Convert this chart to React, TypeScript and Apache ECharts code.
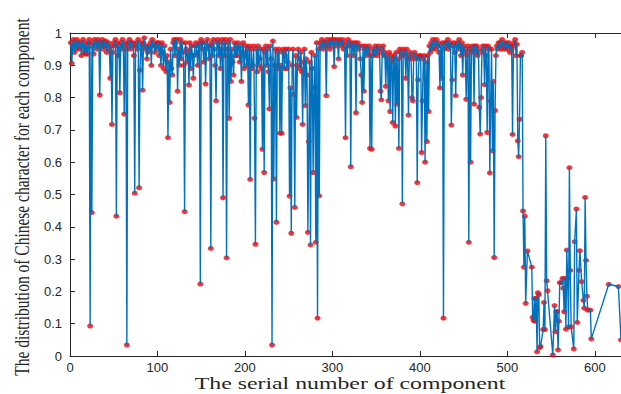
import React, { useEffect, useRef } from "react";
import * as echarts from "echarts";

// Serial numbers 1..510 (dense part)
const denseValues: number[] = [
  0.97, 0.906, 0.96, 0.98, 0.94, 0.97, 0.95, 0.98, 0.96, 0.97,
  0.95, 0.97, 0.93, 0.96, 0.98, 0.94, 0.97, 0.935, 0.96, 0.935,
  0.97, 0.98, 0.093, 0.96, 0.444, 0.97, 0.935, 0.98, 0.96, 0.97,
  0.95, 0.98, 0.97, 0.808, 0.96, 0.97, 0.98, 0.95, 0.96, 0.97,
  0.975, 0.94, 0.96, 0.97, 0.95, 0.86, 0.96, 0.717, 0.94, 0.97,
  0.96, 0.98, 0.433, 0.97, 0.93, 0.96, 0.815, 0.97, 0.95, 0.98,
  0.96, 0.749, 0.97, 0.95, 0.034, 0.96, 0.97, 0.98, 0.95, 0.97,
  0.96, 0.97, 0.93, 0.504, 0.96, 0.97, 0.95, 0.98, 0.521, 0.885,
  0.97, 0.96, 0.823, 0.97, 0.985, 0.95, 0.96, 0.92, 0.94, 0.96,
  0.95, 0.97, 0.90, 0.98, 0.96, 0.97, 0.94, 0.96, 0.95, 0.97,
  0.97, 0.93, 0.96, 0.90, 0.97, 0.94, 0.89, 0.96, 0.92, 0.88,
  0.93, 0.676, 0.91, 0.785, 0.95, 0.89, 0.87, 0.97, 0.98, 0.93,
  0.97, 0.98, 0.82, 0.95, 0.90, 0.98, 0.92, 0.97, 0.94, 0.90,
  0.447, 0.97, 0.95, 0.91, 0.94, 0.839, 0.97, 0.89, 0.96, 0.93,
  0.86, 0.93, 0.96, 0.97, 0.94, 0.90, 0.96, 0.97, 0.223, 0.98,
  0.97, 0.95, 0.91, 0.97, 0.842, 0.95, 0.98, 0.96, 0.92, 0.96,
  0.333, 0.97, 0.93, 0.98, 0.95, 0.90, 0.79, 0.97, 0.98, 0.93,
  0.97, 0.89, 0.95, 0.98, 0.49, 0.97, 0.93, 0.98, 0.304, 0.95,
  0.97, 0.736, 0.98, 0.85, 0.95, 0.91, 0.87, 0.97, 0.93, 0.96,
  0.93, 0.97, 0.95, 0.91, 0.96, 0.85, 0.94, 0.97, 0.89, 0.93,
  0.96, 0.90, 0.95, 0.777, 0.96, 0.547, 0.95, 0.89, 0.90, 0.96,
  0.736, 0.346, 0.95, 0.88, 0.96, 0.90, 0.92, 0.95, 0.89, 0.64,
  0.95, 0.568, 0.94, 0.96, 0.90, 0.95, 0.88, 0.765, 0.96, 0.92,
  0.034, 0.975, 0.548, 0.90, 0.95, 0.414, 0.94, 0.89, 0.95, 0.69,
  0.90, 0.69, 0.94, 0.95, 0.89, 0.93, 0.95, 0.89, 0.91, 0.95,
  0.495, 0.83, 0.38, 0.90, 0.95, 0.81, 0.46, 0.93, 0.739, 0.90,
  0.95, 0.92, 0.89, 0.94, 0.88, 0.717, 0.91, 0.95, 0.775, 0.92,
  0.87, 0.383, 0.664, 0.91, 0.344, 0.94, 0.89, 0.568, 0.83, 0.93,
  0.352, 0.97, 0.117, 0.95, 0.496, 0.97, 0.96, 0.98, 0.95, 0.97,
  0.96, 0.97, 0.806, 0.98, 0.96, 0.97, 0.95, 0.98, 0.97, 0.96,
  0.98, 0.896, 0.97, 0.98, 0.96, 0.97, 0.92, 0.98, 0.97, 0.96,
  0.97, 0.98, 0.95, 0.96, 0.676, 0.97, 0.93, 0.98, 0.96, 0.97,
  0.586, 0.96, 0.97, 0.93, 0.96, 0.97, 0.753, 0.96, 0.97, 0.95,
  0.96, 0.92, 0.87, 0.785, 0.96, 0.82, 0.95, 0.96, 0.93, 0.95,
  0.94, 0.96, 0.643, 0.93, 0.64, 0.95, 0.93, 0.94, 0.96, 0.95,
  0.93, 0.95, 0.96, 0.94, 0.82, 0.793, 0.95, 0.96, 0.93, 0.94,
  0.835, 0.93, 0.92, 0.79, 0.94, 0.757, 0.93, 0.91, 0.723, 0.92,
  0.93, 0.712, 0.94, 0.78, 0.92, 0.643, 0.95, 0.94, 0.93, 0.471,
  0.95, 0.93, 0.94, 0.86, 0.95, 0.92, 0.746, 0.93, 0.94, 0.92,
  0.80, 0.79, 0.93, 0.94, 0.92, 0.93, 0.537, 0.855, 0.92, 0.93,
  0.93, 0.63, 0.79, 0.92, 0.93, 0.60, 0.91, 0.664, 0.93, 0.757,
  0.96, 0.94, 0.97, 0.95, 0.98, 0.96, 0.97, 0.95, 0.98, 0.96,
  0.97, 0.94, 0.83, 0.96, 0.86, 0.97, 0.117, 0.95, 0.97, 0.96,
  0.97, 0.98, 0.95, 0.96, 0.97, 0.715, 0.855, 0.96, 0.97, 0.94,
  0.806, 0.96, 0.97, 0.95, 0.98, 0.96, 0.93, 0.97, 0.87, 0.96,
  0.95, 0.94, 0.795, 0.93, 0.96, 0.352, 0.95, 0.60, 0.94, 0.96,
  0.95, 0.78, 0.96, 0.94, 0.96, 0.93, 0.95, 0.77, 0.687, 0.80,
  0.94, 0.96, 0.95, 0.84, 0.96, 0.93, 0.692, 0.96, 0.95, 0.567,
  0.79, 0.95, 0.635, 0.85, 0.305, 0.76, 0.93, 0.96, 0.95, 0.97,
  0.96, 0.97, 0.95, 0.98, 0.96, 0.97, 0.95, 0.96, 0.97, 0.95,
  0.96, 0.97, 0.94, 0.96, 0.95, 0.686, 0.96, 0.97, 0.98, 0.93,
];

// Sparse tail: serial numbers and values
const tailSerials: number[] = [
  511, 512, 513, 514, 515, 516, 517, 518, 519, 520, 521, 523, 528, 529, 530,
  531, 532, 533, 534, 535, 536, 537, 538, 541, 542, 543, 544, 545, 546, 552,
  554, 555, 556, 557, 558, 559, 560, 562, 563, 564, 565, 566, 567, 568, 569,
  570, 571, 572, 573, 576, 577, 579, 580, 582, 583, 585, 587, 588, 589, 590,
  591, 592, 595, 596, 616, 627, 630,
];
const tailValues: number[] = [
  0.965, 0.666, 0.617, 0.733, 0.93, 0.93, 0.94, 0.449, 0.275, 0.433, 0.163, 0.325, 0.275, 0.12, 0.11,
  0.178, 0.108, 0.178, 0.013, 0.196, 0.19, 0.026, 0.03, 0.082, 0.166, 0.082, 0.682, 0.233, 0.202, 0.003,
  0.156, 0.075, 0.137, 0.137, 0.019, 0.108, 0.227, 0.227, 0.24, 0.21, 0.137, 0.24, 0.083, 0.328, 0.24,
  0.09, 0.583, 0.265, 0.09, 0.022, 0.354, 0.455, 0.104, 0.265, 0.326, 0.23, 0.172, 0.148, 0.491, 0.296,
  0.185, 0.142, 0.142, 0.053, 0.222, 0.215, 0.05,
];

const xTickValues: number[] = [0, 100, 200, 300, 400, 500, 600];
const xAxisTitle = "The serial number of component";
const yAxisTitle = "The distribution of Chinese character for each component";

const AXIS_COLOR = "#262626";

export default function App() {
  const ref = useRef<HTMLDivElement>(null);

  useEffect(() => {
    if (!ref.current) return;
    const chart = echarts.init(ref.current, undefined, { renderer: "svg" });

    const data: number[][] = denseValues
      .map((v, i) => [i + 1, v])
      .concat(tailSerials.map((s, i) => [s, tailValues[i]]));

    const xBase = {
      type: "value" as const,
      min: 0,
      max: 630,
      interval: 100,
      splitLine: { show: false },
      axisLine: { show: true, lineStyle: { color: AXIS_COLOR, width: 1 } },
      axisTick: {
        show: true,
        inside: true,
        length: 5,
        customValues: xTickValues,
        lineStyle: { color: AXIS_COLOR },
      },
    };

    chart.setOption({
      animation: false,
      backgroundColor: "#ffffff",
      grid: { left: 70, top: 33, width: 551, height: 323, containLabel: false },
      xAxis: [
        {
          ...xBase,
          position: "bottom",
          axisLabel: {
            show: true,
            customValues: xTickValues,
            color: AXIS_COLOR,
            fontFamily: "Liberation Sans, Arial, sans-serif",
            fontSize: 13,
            margin: 5,
          },
        },
        {
          ...xBase,
          position: "top",
          axisLabel: { show: false },
        },
      ],
      yAxis: {
        type: "value",
        min: 0,
        max: 1,
        interval: 0.1,
        splitLine: { show: false },
        axisLine: { show: true, lineStyle: { color: AXIS_COLOR, width: 1 } },
        axisTick: { show: true, inside: true, length: 5, lineStyle: { color: AXIS_COLOR } },
        axisLabel: {
          color: AXIS_COLOR,
          fontFamily: "Liberation Sans, Arial, sans-serif",
          fontSize: 13,
          margin: 8,
          formatter: (v: number) => String(Math.round(v * 10) / 10),
        },
      },
      graphic: [
        {
          type: "text",
          x: 350,
          y: 383,
          scaleX: 1.4,
          style: {
            text: xAxisTitle,
            fontFamily: "Liberation Serif, Times New Roman, serif",
            fontSize: 17,
            fill: "#262626",
            textAlign: "center",
            textVerticalAlign: "middle",
          },
        },
        {
          type: "text",
          x: 22,
          y: 197,
          rotation: Math.PI / 2,
          scaleY: 1.35,
          style: {
            text: yAxisTitle,
            fontFamily: "Liberation Serif, Times New Roman, serif",
            fontSize: 15.5,
            fill: "#262626",
            textAlign: "center",
            textVerticalAlign: "middle",
          },
        },
      ],
      series: [
        {
          type: "scatter",
          data,
          z: 1,
          symbol: "circle",
          symbolSize: [6, 5],
          itemStyle: { color: "#FF0000" },
          emphasis: { disabled: true },
          silent: true,
        },
        {
          type: "line",
          data,
          z: 2,
          showSymbol: false,
          lineStyle: { color: "#0072BD", width: 1.4 },
          emphasis: { disabled: true },
          silent: true,
        },
      ],
    });

    return () => chart.dispose();
  }, []);

  return (
    <div
      ref={ref}
      style={{ position: "fixed", left: 0, top: 0, width: 621, height: 394, background: "#fff" }}
    />
  );
}
